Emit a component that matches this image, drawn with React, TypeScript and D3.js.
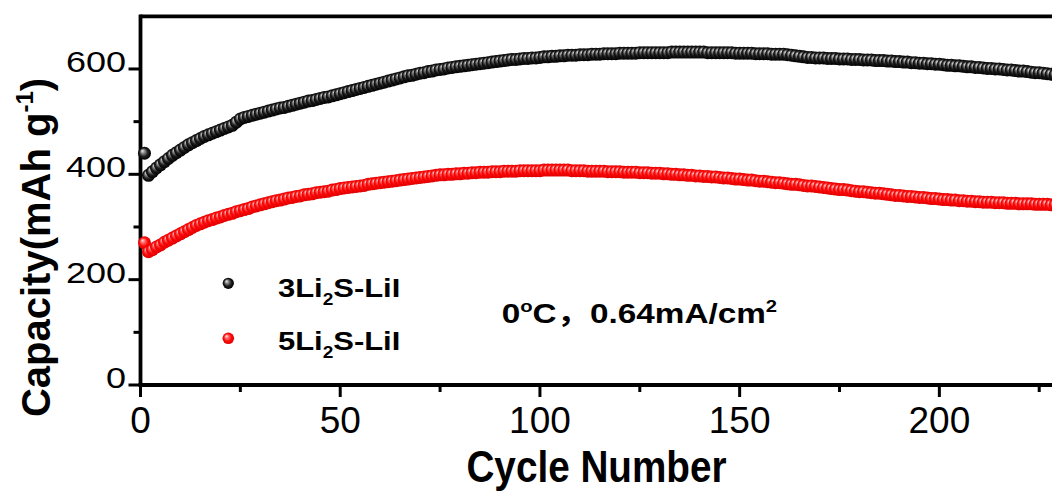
import React from 'react';
import * as d3 from 'd3';

// Capacity (mAh g-1) per cycle, starting at cycle 1
const capacity3Li2S = [
  440, 398, 405, 412, 418, 424, 430, 436, 441, 446,
  451, 456, 460, 464, 468, 472, 475, 478, 481, 484,
  487, 490, 493, 499, 505, 508, 510, 512, 514, 516,
  518, 520, 522, 524, 526, 527, 529, 531, 533, 535,
  537, 539, 540, 542, 544, 546, 547, 549, 551, 553,
  555, 557, 559, 561, 563, 565, 567, 569, 571, 573,
  575, 577, 579, 581, 583, 585, 587, 588, 590, 592,
  593, 595, 596, 598, 599, 600, 602, 603, 604, 605,
  606, 607, 608, 609, 610, 611, 612, 613, 614, 615,
  616, 617, 618, 618, 619, 620, 620, 621, 621, 622,
  623, 623, 624, 624, 625, 625, 626, 626, 626, 627,
  627, 627, 628, 628, 628, 629, 629, 629, 629, 630,
  630, 630, 630, 630, 631, 631, 631, 631, 631, 631,
  631, 631, 632, 632, 632, 632, 632, 632, 632, 632,
  632, 631, 631, 631, 631, 631, 631, 631, 630, 630,
  630, 630, 630, 629, 629, 629, 629, 628, 628, 628,
  628, 627, 626, 625, 624, 623, 622, 622, 621, 621,
  621, 620, 620, 620, 619, 619, 619, 618, 618, 618,
  617, 617, 617, 616, 616, 616, 615, 615, 614, 614,
  613, 613, 612, 612, 611, 611, 610, 610, 609, 609,
  608, 607, 607, 606, 606, 605, 604, 604, 603, 603,
  602, 601, 601, 600, 600, 599, 598, 598, 597, 596,
  596, 595, 594, 593, 593, 592, 591, 590, 589, 588,
];

const capacity5Li2S = [
  270, 253, 257, 262, 266, 271, 275, 279, 283, 287,
  291, 295, 299, 303, 306, 309, 312, 314, 317, 319,
  322, 324, 326, 329, 331, 333, 335, 338, 340, 342,
  344, 346, 348, 350, 351, 353, 355, 356, 358, 359,
  361, 362, 363, 365, 366, 367, 368, 370, 371, 373,
  374, 375, 376, 377, 378, 379, 381, 382, 383, 384,
  385, 386, 387, 388, 389, 390, 391, 392, 393, 394,
  395, 396, 397, 398, 399, 399, 400, 400, 401, 401,
  402, 402, 403, 403, 404, 404, 404, 405, 405, 405,
  406, 406, 406, 406, 407, 407, 407, 407, 407, 407,
  408, 408, 408, 408, 408, 408, 408, 407, 407, 407,
  407, 406, 406, 406, 406, 406, 405, 405, 405, 405,
  404, 404, 404, 404, 403, 403, 403, 402, 402, 402,
  401, 401, 400, 400, 399, 399, 398, 398, 397, 397,
  396, 396, 395, 395, 394, 393, 393, 392, 391, 391,
  390, 389, 389, 388, 387, 387, 386, 385, 384, 384,
  383, 382, 381, 381, 380, 379, 378, 378, 377, 376,
  375, 374, 373, 372, 371, 371, 370, 369, 368, 367,
  367, 366, 365, 364, 364, 363, 362, 361, 360, 360,
  359, 358, 358, 357, 356, 356, 355, 354, 354, 353,
  352, 352, 351, 351, 350, 350, 349, 349, 348, 348,
  347, 347, 347, 346, 346, 346, 345, 345, 345, 344,
  344, 344, 344, 343, 343, 343, 343, 342, 342, 342,
];

const xMajorTicks = [0, 50, 100, 150, 200];
const xMinorTicks = [25, 75, 125, 175, 225];
const yMajorTicks = [0, 200, 400, 600];
const yMinorTicks = [100, 300, 500];

const FONT = '"Liberation Sans", Arial, Helvetica, sans-serif';

export default function App() {
  const W = 1052;
  const H = 500;
  const x = d3.scaleLinear().domain([0, 228.2]).range([140.5, 1052]);
  const y = d3.scaleLinear().domain([0, 700]).range([385, 16.3]);
  const x0 = x(0);
  const y0 = y(0);
  const yTop = y(700);
  const R = 6.5;

  const series = [
    { key: 'red', data: capacity5Li2S, fill: 'url(#ballRed)' },
    { key: 'black', data: capacity3Li2S, fill: 'url(#ballBlack)' },
  ];

  return (
    <svg
      width={W}
      height={H}
      style={{ position: 'absolute', left: 0, top: 0, background: '#fff' }}
      fontFamily={FONT}
    >
      <defs>
        <radialGradient id="ballBlack" cx="50%" cy="50%" r="50%" fx="32%" fy="30%">
          <stop offset="0%" stopColor="#f2f2f2" />
          <stop offset="30%" stopColor="#8a8a8a" />
          <stop offset="65%" stopColor="#202020" />
          <stop offset="100%" stopColor="#000" />
        </radialGradient>
        <radialGradient id="ballRed" cx="50%" cy="50%" r="50%" fx="32%" fy="30%">
          <stop offset="0%" stopColor="#ffe6e6" />
          <stop offset="30%" stopColor="#ff7070" />
          <stop offset="65%" stopColor="#ff0a0a" />
          <stop offset="100%" stopColor="#e00000" />
        </radialGradient>
        <clipPath id="plotClip">
          <rect x={0} y={0} width={W} height={H} />
        </clipPath>
      </defs>
      <rect x={0} y={0} width={W} height={H} fill="#fff" />

      {/* axes frame */}
      <line x1={x0} x2={W} y1={yTop} y2={yTop} stroke="#000" strokeWidth={3.8} />
      <line x1={x0} x2={x0} y1={yTop - 1.9} y2={y0} stroke="#000" strokeWidth={3.8} />
      <line x1={x0 - 1.9} x2={W} y1={y0} y2={y0} stroke="#000" strokeWidth={3.8} />

      {/* y ticks */}
      {yMajorTicks.map((t) => (
        <g key={'ym' + t}>
          <line x1={x0 - 12} x2={x0} y1={y(t)} y2={y(t)} stroke="#000" strokeWidth={3} />
          <text
            transform={`translate(126,${y(t) + 3}) scale(1,0.8)`}
            textAnchor="end"
            fontSize={36}
            fill="#000"
          >
            {t}
          </text>
        </g>
      ))}
      {yMinorTicks.map((t) => (
        <line key={'yn' + t} x1={x0 - 7} x2={x0} y1={y(t)} y2={y(t)} stroke="#000" strokeWidth={3} />
      ))}

      {/* x ticks */}
      {xMajorTicks.map((t) => (
        <g key={'xm' + t}>
          <line x1={x(t)} x2={x(t)} y1={y0} y2={y0 + 12} stroke="#000" strokeWidth={3} />
          <text x={x(t)} y={433} textAnchor="middle" fontSize={37} fill="#000">
            {t}
          </text>
        </g>
      ))}
      {xMinorTicks.map((t) => (
        <line key={'xn' + t} x1={x(t)} x2={x(t)} y1={y0} y2={y0 + 7} stroke="#000" strokeWidth={3} />
      ))}

      {/* axis titles */}
      <text
        transform={`translate(596.5,482) scale(0.86,1)`}
        textAnchor="middle"
        fontSize={45}
        fontWeight="bold"
        fill="#000"
      >
        Cycle Number
      </text>
      <text
        transform={`translate(50,247.5) rotate(-90)`}
        textAnchor="middle"
        fontSize={40}
        fontWeight="bold"
        fill="#000"
      >
        Capacity(mAh g
        <tspan fontSize={24} dy={-17}>-1</tspan>
        <tspan dy={17}>)</tspan>
      </text>

      {/* data */}
      <g clipPath="url(#plotClip)">
        {series.map((s) => (
          <g key={s.key}>
            {s.data.map((v, i) => (
              <circle key={i} cx={x(i + 1)} cy={y(v)} r={R} fill={s.fill} />
            ))}
          </g>
        ))}
      </g>

      {/* legend */}
      <circle cx={228.3} cy={283.3} r={5.6} fill="url(#ballBlack)" />
      <circle cx={228.3} cy={338.3} r={5.8} fill="url(#ballRed)" />
      <text transform="translate(278,297) scale(1.19,1)" fontSize={26} fontWeight="bold" fill="#000">
        3Li
        <tspan fontSize={16} dy={8}>2</tspan>
        <tspan dy={-8}>S-LiI</tspan>
      </text>
      <text transform="translate(278,350) scale(1.19,1)" fontSize={26} fontWeight="bold" fill="#000">
        5Li
        <tspan fontSize={16} dy={8}>2</tspan>
        <tspan dy={-8}>S-LiI</tspan>
      </text>

      {/* annotation */}
      <text transform="translate(501.7,323.3) scale(1.19,1)" fontSize={28} fontWeight="bold" fill="#000">
        0
        <tspan fontSize={17} dy={-11}>o</tspan>
        <tspan dy={11}>C</tspan>
        <tspan fontFamily='"Noto Sans CJK SC", sans-serif'>，</tspan>
        <tspan>0.64mA/cm</tspan>
        <tspan fontSize={17} dy={-11}>2</tspan>
      </text>
    </svg>
  );
}
